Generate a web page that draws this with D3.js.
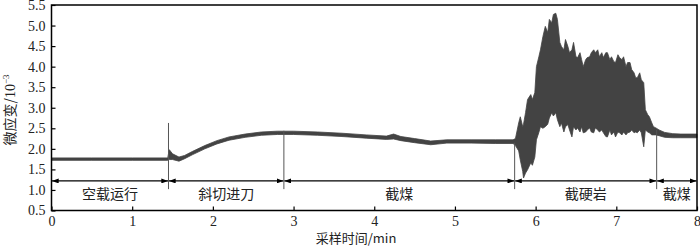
<!DOCTYPE html>
<html><head><meta charset="utf-8">
<script src="https://cdn.jsdelivr.net/npm/d3@7"></script>
<style>
html,body{margin:0;padding:0;background:#fff;}
svg{display:block;}
</style></head>
<body>
<svg id="c" width="700" height="247"></svg>
<script>
// ---- data ----
const time = [0,0.5,1.0,1.44,1.46,1.50,1.58,1.65,1.75,1.9,2.05,2.2,2.4,2.6,2.8,3.0,3.3,3.6,3.9,4.15,4.24,4.33,4.5,4.7,4.9,5.2,5.5,5.72,
 5.75,5.79,5.81,5.84,5.85,5.875,5.90,5.94,5.96,5.99,6.01,6.04,6.06,6.09,6.12,6.15,6.17,6.20,6.22,6.25,6.27,6.30,6.32,6.35,6.37,6.40,6.42,6.45,6.47,6.50,6.52,6.55,6.57,6.59,6.62,6.64,6.67,6.69,6.72,6.74,6.77,6.79,6.82,6.84,6.87,6.89,6.92,6.94,6.97,6.99,7.02,7.04,7.07,7.09,7.12,7.14,7.17,7.19,7.22,7.24,7.26,7.29,7.31,7.34,7.36,7.39,7.41,7.44,7.46,7.49,7.53,7.6,7.7,7.8,8.0];
const upper = [1.78,1.78,1.78,1.78,1.98,1.88,1.80,1.84,1.94,2.08,2.20,2.29,2.36,2.41,2.43,2.43,2.41,2.38,2.34,2.31,2.36,2.30,2.25,2.19,2.22,2.22,2.22,2.22,
 2.25,2.63,2.78,2.54,2.60,2.88,3.20,3.32,3.20,3.37,4.00,4.24,4.41,4.73,4.98,4.83,5.15,5.07,5.27,5.30,5.15,4.59,4.49,4.41,4.66,4.49,4.34,4.41,4.59,4.24,4.22,4.34,4.17,4.00,4.17,4.22,4.24,4.34,4.41,4.34,4.41,4.24,4.34,4.22,4.34,4.34,4.17,4.24,4.12,4.10,4.29,4.22,4.17,4.24,4.00,4.10,4.10,3.93,3.85,3.73,3.73,3.85,3.68,3.61,2.95,2.83,2.78,2.63,2.54,2.51,2.46,2.40,2.37,2.36,2.36];
const lower = [1.72,1.72,1.72,1.72,1.74,1.74,1.70,1.76,1.86,2.00,2.12,2.21,2.28,2.33,2.35,2.35,2.33,2.30,2.26,2.23,2.24,2.20,2.15,2.10,2.14,2.14,2.13,2.13,
 2.08,1.95,1.73,1.45,1.29,1.41,1.49,1.66,1.60,1.80,2.22,2.40,2.54,2.50,2.54,2.60,2.75,2.88,2.80,2.88,2.71,2.54,2.63,2.41,2.54,2.59,2.46,2.29,2.54,2.46,2.51,2.41,2.54,2.39,2.41,2.46,2.51,2.41,2.39,2.51,2.46,2.41,2.46,2.39,2.30,2.29,2.46,2.34,2.41,2.29,2.41,2.39,2.34,2.41,2.34,2.39,2.41,2.46,2.39,2.41,2.39,2.46,2.39,2.05,2.46,2.41,2.39,2.34,2.34,2.34,2.32,2.28,2.27,2.27,2.27];
const boundaries = [0,1.45,2.88,5.74,7.5,8];
const stageLabels = ["空载运行","斜切进刀","截煤","截硬岩","截煤"];
const sepTop = [2.63,2.44,2.15,2.46];
const sepBottom = 1.02;
const arrowLevel = 1.22;
const xTicks = [0,1,2,3,4,5,6,7,8];
const yTicks = [0.5,1.0,1.5,2.0,2.5,3.0,3.5,4.0,4.5,5.0,5.5];
const xTitle = "采样时间/min";

// ---- layout ----
const svg = d3.select("#c");
const L=51.5, R=697, T=5, B=210.5;
const x = d3.scaleLinear().domain([0,8]).range([L,R]);
const y = d3.scaleLinear().domain([0.5,5.5]).range([B,T]);
const numFont = "'Liberation Serif', 'DejaVu Serif', serif";
const cjkFont = "'Noto Sans CJK SC', 'Noto Sans CJK JP', sans-serif";

// signal
const pts = time.map((t,i)=>({t,u:upper[i],l:lower[i]}));
svg.append("path").datum(pts)
  .attr("d", d3.area().x(d=>x(d.t)).y0(d=>y(d.l)).y1(d=>y(d.u)))
  .attr("fill","#434343").attr("stroke","#434343").attr("stroke-width",0.8).attr("stroke-linejoin","round");

// separators
svg.selectAll("line.sep").data(boundaries.slice(1,5)).enter().append("line")
  .attr("x1",d=>x(d)).attr("x2",d=>x(d))
  .attr("y1",(d,i)=>y(sepTop[i])).attr("y2",y(sepBottom))
  .attr("stroke","#555").attr("stroke-width",1);

// arrows
const defs = svg.append("defs");
defs.append("marker").attr("id","ah").attr("viewBox","0 0 8 6").attr("refX",8).attr("refY",3)
  .attr("markerWidth",7).attr("markerHeight",5).attr("markerUnits","userSpaceOnUse").attr("orient","auto-start-reverse")
  .append("path").attr("d","M0,0L8,3L0,6Z").attr("fill","#000");
for(let i=0;i<5;i++){
  svg.append("line").attr("x1",x(boundaries[i])+0.5).attr("x2",x(boundaries[i+1])-0.5)
    .attr("y1",y(arrowLevel)).attr("y2",y(arrowLevel))
    .attr("stroke","#000").attr("stroke-width",1.3)
    .attr("marker-start","url(#ah)").attr("marker-end","url(#ah)");
  svg.append("text").attr("x",x((boundaries[i]+boundaries[i+1])/2)).attr("y",199)
    .attr("text-anchor","middle").style("font-family",cjkFont).style("font-size","14px").attr("fill","#222")
    .text(stageLabels[i]);
}

// axes
const xAxis = d3.axisBottom(x).tickValues(xTicks).tickFormat(d3.format("d")).tickSizeInner(-4).tickSizeOuter(0).tickPadding(6);
const gx = svg.append("g").attr("transform",`translate(0,${B})`).call(xAxis);
gx.attr("font-family",null).attr("font-size",null);
gx.select(".domain").remove();
gx.selectAll("line").attr("stroke","#000").attr("stroke-width",1.2);
gx.selectAll("text").style("font-family",numFont).style("font-size","14px").attr("fill","#222");

const yAxis = d3.axisLeft(y).tickValues(yTicks).tickFormat(d3.format(".1f")).tickSizeInner(-4).tickSizeOuter(0).tickPadding(6);
const gy = svg.append("g").attr("transform",`translate(${L},0)`).call(yAxis);
gy.attr("font-family",null).attr("font-size",null);
gy.select(".domain").remove();
gy.selectAll("line").attr("stroke","#000").attr("stroke-width",1.2);
gy.selectAll("text").style("font-family",numFont).style("font-size","14px").attr("fill","#222");

// frame
svg.append("rect").attr("x",L).attr("y",T).attr("width",R-L).attr("height",B-T)
  .attr("fill","none").attr("stroke","#000").attr("stroke-width",1.5);

// titles
svg.append("text").attr("x",356).attr("y",243).attr("text-anchor","middle")
  .style("font-family",cjkFont).style("font-size","13px").attr("fill","#222")
  .text(xTitle);
const yt = svg.append("text").attr("transform","translate(15,110) rotate(-90)").attr("text-anchor","middle")
  .style("font-family",cjkFont).style("font-size","14px").attr("fill","#222");
yt.append("tspan").text("微应变/");
yt.append("tspan").style("font-family",numFont).text("10");
yt.append("tspan").style("font-family",numFont).style("font-size","9px").attr("dy",-6).text("−3");
</script>
</body></html>
